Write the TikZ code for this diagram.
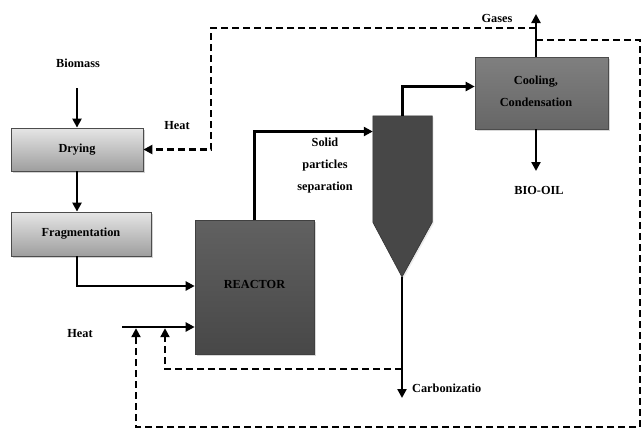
\documentclass[tikz,border=0pt]{standalone}
\usepackage{fontspec}
\setmainfont{Liberation Serif}
\usetikzlibrary{arrows.meta,shadows}
\begin{document}
\begin{tikzpicture}[x=1pt,y=-1pt,
  font=\fontsize{12.3}{22}\selectfont\bfseries,
  arr/.style={line width=2.4pt,-{Triangle[length=9pt,width=9pt]}},
  darr/.style={line width=2.2pt,dash pattern=on 7pt off 4pt,-{Triangle[length=9pt,width=9pt]}},
  lightbox/.style={draw=black!70,line width=0.8pt,top color=black!10,bottom color=black!38,
    drop shadow={shadow xshift=1.5pt,shadow yshift=-1.5pt,opacity=0.35},inner sep=0pt},
  darkbox/.style={draw=black!75,line width=0.6pt,top color=black!62,bottom color=black!72,
    drop shadow={shadow xshift=1.5pt,shadow yshift=-1.5pt,opacity=0.3},inner sep=0pt},
  coolbox/.style={draw=black!70,line width=0.6pt,top color=black!50,bottom color=black!60,
    drop shadow={shadow xshift=1.5pt,shadow yshift=-1.5pt,opacity=0.3},inner sep=0pt},
  lbl/.style={inner sep=1pt}]
\useasboundingbox (0,0) rectangle (641,429);
\fill[white] (0,0) rectangle (641,429);

% nodes
\node[lbl] (bio) at (78,63) {Biomass};
\node[lightbox,minimum width=132pt,minimum height=43pt] (dry) at (77,149.5) {\raisebox{3pt}{Drying}};
\node[lightbox,minimum width=140pt,minimum height=44pt] (frag) at (81,234) {Fragmentation};
\node[darkbox,minimum width=119pt,minimum height=134pt] (reac) at (254.5,287) {\raisebox{5pt}{REACTOR}};
\node[coolbox,minimum width=133pt,minimum height=72pt] (cool) at (541.5,93) {};
\node[lbl,align=center] (cooltxt) at (536,91) {Cooling,\\Condensation};
\node[minimum width=59pt,minimum height=106pt,inner sep=0pt] (sep) at (402.5,169) {};
\coordinate (tip) at (402,277);
\fill[black!15,opacity=0.5] ([shift={(1.5pt,-1.5pt)}]sep.north west) -- ([shift={(1.5pt,-1.5pt)}]sep.north east) -- ([shift={(1.5pt,-1.5pt)}]sep.south east) -- ([shift={(1.5pt,-1.5pt)}]tip) -- ([shift={(1.5pt,-1.5pt)}]sep.south west) -- cycle;
\filldraw[draw=black!80,line width=0.6pt,fill=black!72] (sep.north west) -- (sep.north east) -- (sep.south east) -- (tip) -- (sep.south west) -- cycle;
\node[lbl,align=center] (solid) at (325,166) {Solid\\particles\\separation};
\node[lbl] (heat1) at (177,126) {Heat};
\node[lbl] (heat2) at (80,334) {Heat};
\node[lbl] (gases) at (497,18) {Gases};
\node[lbl] (oil) at (539,190) {BIO-OIL};
\node[lbl,anchor=west] (carb) at (411,388) {Carbonizatio};

% coordinates
\coordinate (bioend) at (77,88);
\coordinate (hs) at (122,327);
\coordinate (gx) at (536,14);
\coordinate (oilend) at (536,171);
\coordinate (carbend) at (402,398);
\coordinate (topline) at (211,28);
\coordinate (rline) at (640,40);
\coordinate (bline) at (136,427);
\coordinate (sline) at (165,369);

% solid connectors
\draw[arr] (bioend) -- (dry.north);
\draw[arr] (dry.south) -- (dry.south |- frag.north);
\draw[arr] (frag.south -| dry.south) |- ([yshift=1pt]reac.west);
\draw[arr] (hs) -- (hs -| reac.west);
\draw[arr] (reac.north) |- (sep.west |- 0,131.5);
\draw[arr] (sep.north) |- (cool.west |- 0,86.5);
\draw[arr] (gx |- cool.north) -- (gx);
\draw[arr] (oilend |- cool.south) -- (oilend);
\draw[arr] (tip) -- (carbend);

% dashed connectors
\draw[darr] (gx |- topline) -- (topline) |- (dry.east);
\draw[darr] (gx |- rline) -- (rline) |- (bline) -- ([yshift=-1.2pt]bline |- hs);
\draw[darr] (tip |- sline) -- (sline) -- ([yshift=-1.2pt]sline |- hs);
\end{tikzpicture}
\end{document}
